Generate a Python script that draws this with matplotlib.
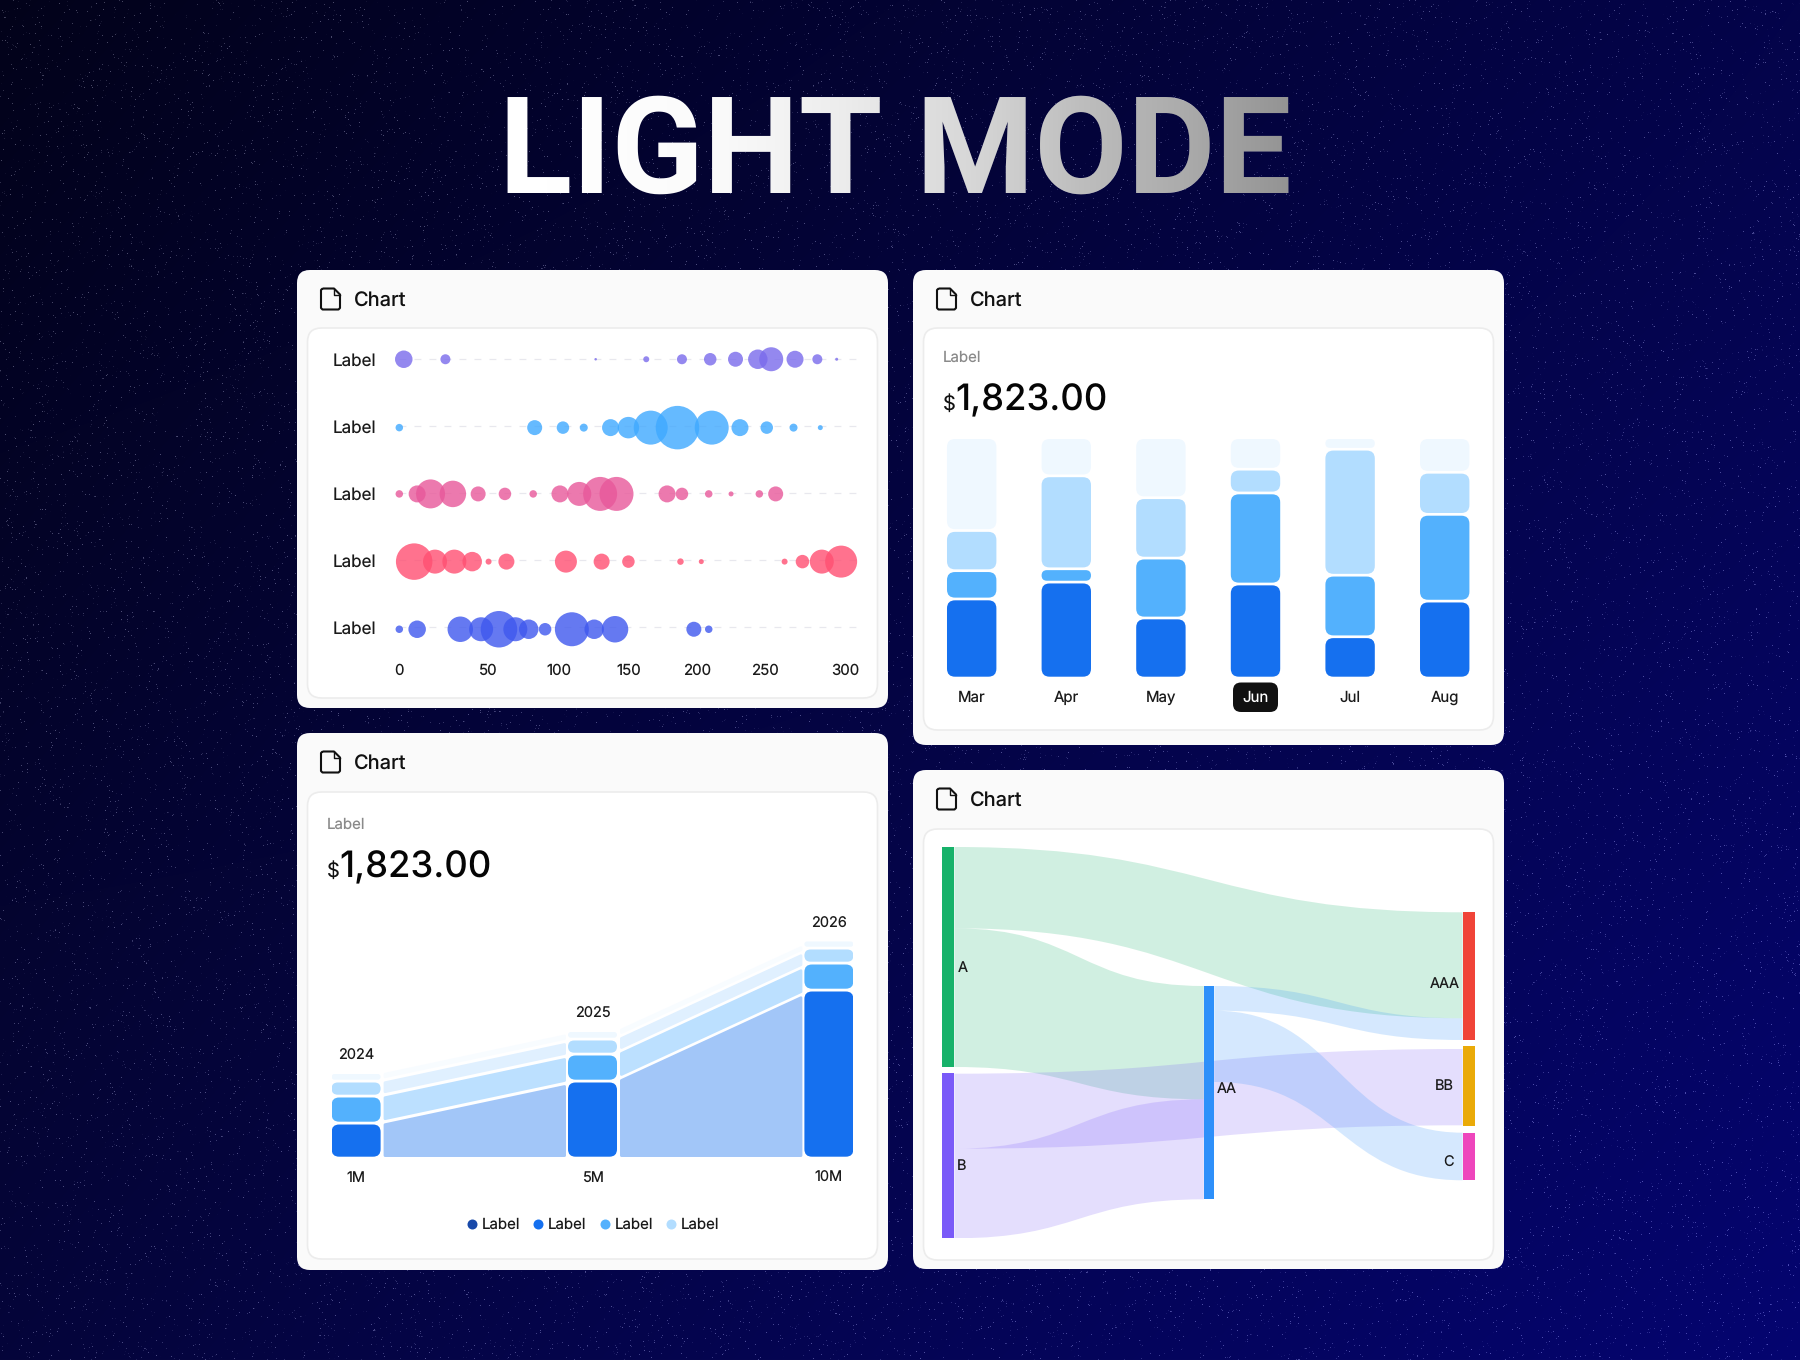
#!/usr/bin/env python3
# -*- coding: utf-8 -*-
import numpy as np
import matplotlib
matplotlib.use("Agg")
import matplotlib.pyplot as plt
from matplotlib.font_manager import FontProperties
from matplotlib.patches import FancyBboxPatch, PathPatch, Rectangle
from matplotlib.path import Path as MPath
from matplotlib.textpath import TextPath
from matplotlib.transforms import Affine2D

W, H = 1800, 1360
plt.rcParams["font.family"] = ["Inter", "DejaVu Sans"]
plt.rcParams["text.hinting"] = "none"

TITLE = "LIGHT MODE"
TEXT_DARK = "#1a1a1a"

# bubble rows: position on the 0-300 axis, diameter
BUBBLE_ROWS = ["Label", "Label", "Label", "Label", "Label"]
BUBBLE_COLORS = ["#7a6bec", "#3fa9ff", "#e8589a", "#ff4f72", "#3f58ee"]
ROW1_X = [3, 31, 132, 166, 190, 209, 226, 241, 250, 266, 281, 294]
ROW1_D = [17.5, 10, 2.5, 6, 10, 12.5, 15, 19.5, 24, 17, 10, 3]
ROW2_X = [0, 91, 110, 124, 142, 154, 169, 187, 210, 229, 247, 265, 283]
ROW2_D = [7.5, 15, 12.5, 8, 17, 21.5, 34, 43.5, 34, 17, 12.5, 8, 5]
ROW3_X = [0, 12, 21, 36, 53, 71, 90, 108, 121, 135, 146, 180, 190, 208, 223, 242, 253]
ROW3_D = [7.5, 17, 29, 26.5, 15, 12.5, 7.5, 17, 24, 34, 34, 17, 12.5, 7.5, 5, 7.5, 15]
ROW4_X = [10, 24, 37, 49, 60, 72, 112, 136, 154, 189, 203, 259, 271, 284, 297]
ROW4_D = [36.5, 24, 24, 19.5, 6, 16, 22, 16, 12.5, 6.5, 5, 6, 13.5, 24, 32]
ROW5_X = [0, 12, 41, 55, 67, 78, 87, 98, 116, 131, 145, 198, 208]
ROW5_D = [7.5, 17.5, 25.5, 24, 36.5, 24, 19.5, 12.5, 34, 19.5, 26.5, 15, 7.5]
BUBBLE_TICK_POS = [0, 60, 107, 154, 200, 246, 300]  # labels are spaced unevenly in the source
BUBBLE_TICK_LABELS = ["0", "50", "100", "150", "200", "250", "300"]

# monthly stacked bars, percent of column
MONTHS = ["Mar", "Apr", "May", "Jun", "Jul", "Aug"]
M_DARK = [32.7, 39.8, 24.7, 39.0, 16.8, 31.8]
M_MID = [11.9, 5.6, 25.2, 38.3, 25.9, 36.5]
M_LIGHT = [16.9, 39.1, 25.4, 10.0, 53.0, 17.7]
M_PALE = [38.5, 15.5, 24.7, 12.7, 4.3, 14.0]
ACTIVE_MONTH = "Jun"

# yearly stack with connecting bands
YEARS = ["2024", "2025", "2026"]
Y_TOTAL_LABELS = ["1M", "5M", "10M"]
Y_POS = [0, 5, 10]
Y_DARK = [35, 77, 168]
Y_MID = [27, 27, 27]
Y_LIGHT = [15, 15, 15]
Y_PALE = [8.5, 8.5, 8]
LEGEND_LABELS = ["Label", "Label", "Label", "Label"]
LEGEND_COLORS = ["#1849a9", "#1570ef", "#53b1fd", "#b2ddff"]

# sankey, y measured downward from top of plot
NODE_NAMES = ["A", "B", "AA", "AAA", "BB", "C"]
NODE_COL = [0, 0, 1, 2, 2, 2]
NODE_TOP = [0, 226.3, 139, 65.3, 198.7, 285.7]
NODE_BOT = [220, 391.3, 352.3, 193, 278.7, 333.3]
NODE_COLORS = ["#17b26a", "#7a5af8", "#2e90fa", "#f04438", "#eaaa08", "#ee46bc"]
LINK_SRC = ["A", "A", "B", "B", "AA", "AA"]
LINK_DST = ["AAA", "AA", "BB", "AA", "AAA", "C"]
LINK_SRC_TOP = [0, 81.3, 226.7, 301.7, 139, 163.7]
LINK_SRC_BOT = [81.3, 220, 301.7, 391.3, 163.7, 235]
LINK_DST_TOP = [65.3, 139, 202, 252.3, 171.3, 285.7]
LINK_DST_BOT = [171.3, 252.3, 278.3, 352.3, 193, 333.3]

SHADES = ["#1570ef", "#53b1fd", "#b2ddff", "#eff8ff"]
BAND_SHADES = ["#a2c6f8", "#bce0ff", "#e0f0ff", "#f8fcff"]


def px(size):
    return size * 0.72


def add_ax(fig, x0, y0, x1, y1):
    # pixel box (y down) -> figure axes
    ax = fig.add_axes([x0 / W, 1 - y1 / H, (x1 - x0) / W, (y1 - y0) / H])
    ax.set_axis_off()
    ax.patch.set_alpha(0)
    return ax


def draw_background(ax):
    yy, xx = np.mgrid[0:H, 0:W]
    u, v = xx / (W - 1), yy / (H - 1)
    tl, tr = np.array([2, 2, 26.0]), np.array([4, 4, 74.0])
    bl, br = np.array([5, 5, 58.0]), np.array([5, 5, 112.0])
    img = ((1 - u) * (1 - v))[..., None] * tl + (u * (1 - v))[..., None] * tr
    img = img + ((1 - u) * v)[..., None] * bl + (u * v)[..., None] * br
    # shader style hash for the star speckle
    h = np.sin(xx * 12.9898 + yy * 78.233) * 43758.5453
    h = h - np.floor(h)
    stars = np.clip((h - 0.983) / 0.017, 0, 1)[..., None]
    img = img + stars * 75
    ax.imshow(np.clip(img, 0, 255).astype(np.uint8), extent=(0, W, H, 0), aspect="auto",
              interpolation="nearest", zorder=0)


def draw_title(ax):
    x0, base = 499, 193
    size = 135
    ax.text(x0, base, TITLE, color="#ffffff", fontsize=px(size), fontweight="bold", family=["Roboto"],
            ha="left", va="baseline", zorder=3)
    # grey fade laid over the white text, clipped to the same glyph outlines
    prop = FontProperties(family="Roboto", weight="bold")
    tp = TextPath((0, 0), TITLE, size=size, prop=prop)
    trans = Affine2D().scale(1, -1).translate(x0, base) + ax.transData
    xs = np.arange(480, 1320)
    fade = np.interp(xs, [507, 711, 840, 970, 1080, 1180, 1293], [0, 0.02, 0.075, 0.16, 0.26, 0.33, 0.43])
    rgba = np.zeros((1, len(xs), 4))
    rgba[0, :, 3] = fade
    im = ax.imshow(rgba, extent=(480, 1320, 210, 80), aspect="auto", zorder=3.5, interpolation="bilinear")
    im.set_clip_path(PathPatch(tp, transform=trans))


def rbox(ax, x0, y0, x1, y1, r, fc, ec="none", lw=0, z=2):
    ax.add_patch(FancyBboxPatch((x0, y0), x1 - x0, y1 - y0, boxstyle=f"round,pad=0,rounding_size={r}",
                                fc=fc, ec=ec, lw=lw, zorder=z))


def draw_icon(ax, x0, y0, w=19, h=21):
    fold = 6
    verts = [(x0 + 1.5, y0), (x0 + w - fold, y0), (x0 + w, y0 + fold), (x0 + w, y0 + h - 1.5),
             (x0 + w - 1.5, y0 + h), (x0 + 1.5, y0 + h), (x0, y0 + h - 1.5), (x0, y0 + 1.5), (x0 + 1.5, y0)]
    ax.add_patch(PathPatch(MPath(verts), fc="none", ec="#111111", lw=1.5, joinstyle="round", zorder=4))
    ax.plot([x0 + w - fold, x0 + w - fold, x0 + w], [y0, y0 + fold, y0 + fold], color="#111111", lw=1.0, zorder=4)


def draw_card(ax, x0, y0, x1, y1, inner_top, inner_bot, header_y):
    rbox(ax, x0, y0, x1, y1, 13, "#fafafa")
    rbox(ax, x0 + 10.5, inner_top, x1 - 10.5, inner_bot, 14, "#ffffff", ec="#ececec", lw=1.2, z=2.5)
    draw_icon(ax, x0 + 24, header_y - 10.5)
    ax.text(x0 + 57, header_y + 2, "Chart", color="#111111", fontsize=px(20), fontweight="medium",
            ha="left", va="center", zorder=4)


def draw_amount(ax, x, label_y, base_y):
    ax.text(x, label_y, "Label", color="#8a8a8a", fontsize=px(15), ha="left", va="center", zorder=4)
    ax.text(x, base_y, "$", color="#111111", fontsize=px(20), ha="left", va="baseline", zorder=4)
    ax.text(x + 12.5, base_y, "1,823.00", color="#050505", fontsize=px(36.4), fontweight="medium",
            ha="left", va="baseline", zorder=4)


def round_seg(ax, x0, x1, y0, y1, color, r_px, xs, ys):
    # rounded rect in data coords, xs/ys = data units per pixel
    h_px = abs(y1 - y0) / ys
    r = min(r_px, h_px / 2 - 0.01) * xs
    ax.add_patch(FancyBboxPatch((x0, y0), x1 - x0, y1 - y0, boxstyle=f"round,pad=0,rounding_size={r}",
                                fc=color, ec="none", mutation_aspect=ys / xs, zorder=3))


def draw_bubbles(fig):
    # one row = 67.5 px
    ax = add_ax(fig, 399.3, 325.5, 845.6 + 15, 663)
    xs_per_px = 300 / (845.6 - 399.3)
    ax.set_xlim(0, 300 + 15 * xs_per_px)
    ax.set_ylim(5, 0)
    rows_x = [ROW1_X, ROW2_X, ROW3_X, ROW4_X, ROW5_X]
    rows_d = [ROW1_D, ROW2_D, ROW3_D, ROW4_D, ROW5_D]
    row_offset = [0.0, 0.013, -0.005, -0.002, 0.0]
    for i, name in enumerate(BUBBLE_ROWS):
        y = 0.5 + i * 0.9926
        ax.plot([0, 310], [y, y], color="#e8e8ee", lw=0.9, dashes=(5.5, 6.5), zorder=1, clip_on=False)
        s = (np.array(rows_d[i]) * 0.72) ** 2
        yc = 0.5 + i + row_offset[i]
        ax.scatter(rows_x[i], [yc] * len(rows_x[i]), s=s, color=BUBBLE_COLORS[i], alpha=0.8,
                   linewidths=0, zorder=3, clip_on=False)
        ax.text(-30, y + 0.025, name, color=TEXT_DARK, fontsize=px(17), ha="center", va="center", zorder=4)
    for pos, lab in zip(BUBBLE_TICK_POS, BUBBLE_TICK_LABELS):
        ax.text(pos, 5.11, lab, color=TEXT_DARK, fontsize=px(15), ha="center", va="center", zorder=4)


def draw_month_bars(fig):
    ax = add_ax(fig, 930, 439, 1490, 676.7)
    ax.set_xlim(-0.4407, 5.4787)
    ax.set_ylim(0, 100)
    xs = 5.9194 / 560
    ys = 100 / 237.7
    bw = 49.4 * xs
    gap = 2.7 * ys
    stacks = [M_DARK, M_MID, M_LIGHT, M_PALE]
    for i, m in enumerate(MONTHS):
        base = 0
        for st, col in zip(stacks, SHADES):
            top = min(base + st[i], 100)
            lower = base + gap / 2 if base > 0 else 0
            upper = top - gap / 2 if top < 99.9 else top
            round_seg(ax, i - bw / 2, i + bw / 2, lower, upper, col, 8, xs, ys)
            base = top
        is_act = m == ACTIVE_MONTH
        if is_act:
            ax.add_patch(FancyBboxPatch((i - 22.5 * xs, -35.3 * ys), 45 * xs, 29.5 * ys,
                                        boxstyle=f"round,pad=0,rounding_size={8 * xs}", fc="#111111", ec="none",
                                        mutation_aspect=ys / xs, zorder=3, clip_on=False))
        ax.text(i, -21 * ys, m, color="#ffffff" if is_act else TEXT_DARK, fontsize=px(15), ha="center",
                va="center", zorder=4, clip_on=False)


def draw_year_stack(fig):
    # x axis runs in total value (M), bars are centred on their value
    left, right = 331.6, 853.4
    ax = add_ax(fig, left, 900, right, 1156.7)
    c0, c2 = 356.1, 828.9
    per_px = 10 / (c2 - c0)
    ax.set_xlim(-(c0 - left) * per_px, 10 + (right - c2) * per_px)
    ax.set_ylim(0, 256.7)
    half = 24.5 * per_px
    stacks = [np.array(Y_DARK), np.array(Y_MID), np.array(Y_LIGHT), np.array(Y_PALE)]
    gap = 2.8
    base = np.zeros(3)
    for st, col, bcol in zip(stacks, SHADES, BAND_SHADES):
        top = base + st
        for a in range(2):
            # band edges are flatter than bar-to-bar: they aim 5 px inside each bar
            xa = Y_POS[a] + half + 3.9 * per_px
            xb = Y_POS[a + 1] - half - 3.9 * per_px
            span = Y_POS[a + 1] - Y_POS[a] - 2 * half + 10 * per_px
            fr = (np.array([xa, xb]) - (Y_POS[a] + half - 5 * per_px)) / span
            lo = base[a] + (base[a + 1] - base[a]) * fr
            hi = (top[a] - gap) + (top[a + 1] - top[a]) * fr
            ax.fill_between([xa, xb], lo + 1.6, hi - 1.6, color=bcol, lw=2, joinstyle="round", zorder=2)
        for i in range(3):
            round_seg(ax, Y_POS[i] - half, Y_POS[i] + half, base[i], top[i] - gap, col, 7.5, per_px, 1.0)
        base = top
    for i in range(3):
        ax.text(Y_POS[i], base[i] + 15, YEARS[i], color=TEXT_DARK, fontsize=px(14.5), ha="center", va="center",
                zorder=4, clip_on=False)
        ax.text(Y_POS[i], -21.5, Y_TOTAL_LABELS[i], color=TEXT_DARK, fontsize=px(14.5), ha="center", va="center",
                zorder=4, clip_on=False)
    # legend
    lx = [471.7, 538, 604.8, 671]
    for x, lab, col in zip(lx, LEGEND_LABELS, LEGEND_COLORS):
        ax.scatter([(x - c0) * per_px], [-67.5], s=(10 * 0.72) ** 2, color=col, linewidths=0, clip_on=False, zorder=4)
        ax.text((x + 10 - c0) * per_px, -68.5, lab, color=TEXT_DARK, fontsize=px(15), ha="left", va="center",
                zorder=4, clip_on=False)


def ribbon(ax, x0, x1, t0, b0, t1, b1, color):
    xm = (x0 + x1) / 2
    verts = [(x0, t0), (xm, t0), (xm, t1), (x1, t1), (x1, b1), (xm, b1), (xm, b0), (x0, b0), (x0, t0)]
    codes = [MPath.MOVETO, MPath.CURVE4, MPath.CURVE4, MPath.CURVE4, MPath.LINETO,
             MPath.CURVE4, MPath.CURVE4, MPath.CURVE4, MPath.CLOSEPOLY]
    ax.add_patch(PathPatch(MPath(verts, codes), fc=color, ec="none", alpha=0.2, zorder=2))


def draw_sankey(fig):
    ax = add_ax(fig, 942.4, 847, 1474.6, 1238.3)
    ax.set_xlim(942.4, 1474.6)
    ax.set_ylim(391.3, 0)
    col_x = [(942.4, 954.4), (1203.8, 1214.3), (1462.6, 1474.6)]
    idx = {n: i for i, n in enumerate(NODE_NAMES)}
    for s, d, st, sb, dt, db in zip(LINK_SRC, LINK_DST, LINK_SRC_TOP, LINK_SRC_BOT, LINK_DST_TOP, LINK_DST_BOT):
        a, b = idx[s], idx[d]
        ribbon(ax, col_x[NODE_COL[a]][1], col_x[NODE_COL[b]][0], st, sb, dt, db, NODE_COLORS[a])
    for i, n in enumerate(NODE_NAMES):
        x0, x1 = col_x[NODE_COL[i]]
        ax.add_patch(Rectangle((x0, NODE_TOP[i]), x1 - x0, NODE_BOT[i] - NODE_TOP[i], fc=NODE_COLORS[i], ec="none",
                               zorder=3))
    lab_y = [120.7, 319, 242, 137, 239.5, 315.5]
    lab_x = [957.5, 957, 1217, 1459.5, 1453.6, 1453.6]
    lab_ha = ["left", "left", "left", "right", "right", "right"]
    for n, lx, ly, ha in zip(NODE_NAMES, lab_x, lab_y, lab_ha):
        ax.text(lx, ly, n, color=TEXT_DARK, fontsize=px(14.5), ha=ha, va="center", zorder=4)


def main():
    fig = plt.figure(figsize=(18, 13.6), dpi=100)
    bg = fig.add_axes([0, 0, 1, 1])
    bg.set_axis_off()
    draw_background(bg)
    bg.set_xlim(0, W)
    bg.set_ylim(H, 0)
    draw_title(bg)

    draw_card(bg, 297, 270, 888, 708, 328, 698, 299)
    draw_card(bg, 913, 270, 1504, 745, 328, 730, 299)
    draw_card(bg, 297, 733, 888, 1270, 792, 1259, 762)
    draw_card(bg, 913, 770, 1504, 1269, 829, 1260, 799)
    bg.set_xlim(0, W)
    bg.set_ylim(H, 0)

    draw_amount(bg, 943, 358, 410)
    draw_amount(bg, 327, 825, 877)

    draw_bubbles(fig)
    draw_month_bars(fig)
    draw_year_stack(fig)
    draw_sankey(fig)

    fig.savefig("out.png", dpi=100)
    plt.close(fig)


if __name__ == "__main__":
    main()
